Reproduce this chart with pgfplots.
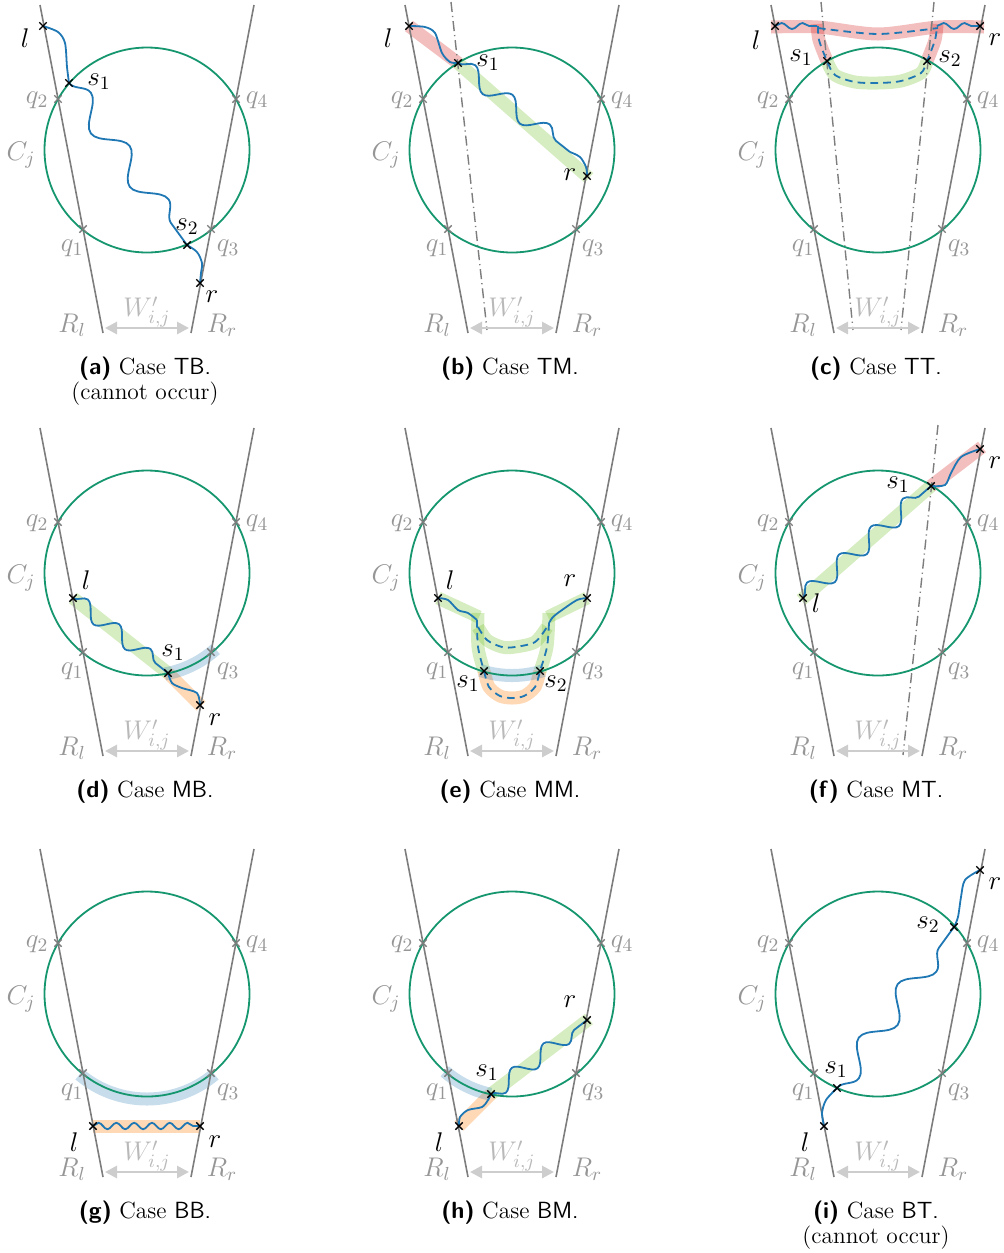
\RequirePackage{fix-cm}
\documentclass[border=0pt]{standalone}
\usepackage{pgfplots}
\pgfplotsset{compat=1.18}
\usetikzlibrary{decorations.pathmorphing,arrows.meta}
\definecolor{cgreen}{RGB}{22,150,110}
\definecolor{cgray}{RGB}{125,125,125}
\definecolor{lgray}{RGB}{150,150,150}
\definecolor{wgray}{RGB}{185,185,185}
\definecolor{agray}{RGB}{205,205,205}
\definecolor{wblue}{RGB}{31,119,180}
\definecolor{bred}{RGB}{214,39,40}
\definecolor{bgreen}{RGB}{120,195,50}
\definecolor{bblue}{RGB}{31,119,180}
\definecolor{borange}{RGB}{255,127,14}
\tikzset{
  lab/.style={text=lgray, font=\fontsize{13.5}{16}\selectfont, inner sep=0pt},
  blab/.style={text=black, font=\fontsize{13.5}{16}\selectfont, inner sep=0pt},
  captxt/.style={text=black, font=\fontsize{11.7}{14}\selectfont, inner sep=0pt},
}
\pgfplotsset{
  panel/.style={hide axis, clip=false, scale only axis, y dir=reverse,
    xmin=0, xmax=335, ymin=0, ymax=410, width=167.5pt, height=205pt,
    anchor=north west},
  band/.style={line width=6.5pt, opacity=0.3},
  wig/.style={wblue, line width=0.9pt, smooth},
  dwig/.style={wblue, line width=0.9pt, smooth, dash pattern=on 3.8pt off 2.6pt},
  snk/.style n args={2}{wblue, line width=0.9pt, decorate,
    decoration={snake, amplitude=#1, segment length=#2}},
  msnk/.style n args={2}{wblue, line width=0.9pt, decorate,
    decoration={snake, amplitude=#1, segment length=#2, mirror}},
  pts/.style={only marks, mark=x, mark size=2.6pt, black, mark options={line width=0.7pt}},
  dd/.style={cgray, line width=0.7pt, dash pattern=on 5pt off 2pt on 0.6pt off 2pt},
}
\newcommand{\base}{%
  \addplot[cgray, line width=0.8pt] coordinates {(40,5) (103,333)};
  \addplot[cgray, line width=0.8pt] coordinates {(254,5) (191,333)};
  \draw[cgreen, line width=0.9pt] (axis cs:147,150) circle[radius=51.25pt];
  \addplot[only marks, mark=x, mark size=2.6pt, cgray, mark options={line width=0.7pt}]
    coordinates {(58,99)(83,229)(236,99)(211,229)};
  \addplot[agray, line width=1.4pt, {Triangle[length=6pt,width=6pt]}-{Triangle[length=6pt,width=6pt]}]
    coordinates {(105,328)(189,328)};
  \node[lab] at (axis cs:37,100) {$q_2$};
  \node[lab] at (axis cs:257,100) {$q_4$};
  \node[lab] at (axis cs:72,248) {$q_1$};
  \node[lab] at (axis cs:228,248) {$q_3$};
  \node[lab] at (axis cs:21,155) {$C_j$};
  \node[lab] at (axis cs:72,325) {$R_l$};
  \node[lab] at (axis cs:222,325) {$R_r$};
  \node[lab, text=wgray] at (axis cs:147,312) {$W'_{i,j}$};
}
\begin{document}
\begin{tikzpicture}
% (a)
\begin{axis}[panel, at={(0pt,0pt)}]
\base
\addplot[wig] coordinates {(43,26)(58,32)(65,43)(67,67)(69,83)};
\addplot[snk={6pt}{33pt}] coordinates {(69,83)(187,245)};
\addplot[wig] coordinates {(187,245)(197,252)(202,263)(201,273)(200,283)};
\addplot[pts] coordinates {(43,26)(69,83)(187,245)(200,283)};
\node[blab] at (axis cs:25,38) {$l$};
\node[blab] at (axis cs:99,82) {$s_1$};
\node[blab] at (axis cs:187,227) {$s_2$};
\node[blab] at (axis cs:212,297) {$r$};
\node[captxt] at (axis cs:145,369) {\textsf{\textbf{(a)}} Case \textsf{TB.}};
\node[captxt] at (axis cs:145,394) {(cannot occur)};
\end{axis}
% (b)
\begin{axis}[panel, at={(182.5pt,0pt)}]
\addplot[band, bred] coordinates {(44,26)(93,63)};
\addplot[band, bgreen] coordinates {(93,63)(224,178)};
\addplot[dd] coordinates {(86,2)(122,330)};
\base
\addplot[wig] coordinates {(44,26)(60,27)(70,33)(77,53)(85,62)(93,63)};
\addplot[snk={4.5pt}{23.8pt}] coordinates {(93,63)(205,152)};
\addplot[wig] coordinates {(205,152)(215,157)(221,167)(222,176)};
\addplot[pts] coordinates {(44,26)(93,63)(222,176)};
\node[blab] at (axis cs:23,38) {$l$};
\node[blab] at (axis cs:123,63) {$s_1$};
\node[blab] at (axis cs:205,175) {$r$};
\node[captxt] at (axis cs:145,369) {\textsf{\textbf{(b)}} Case \textsf{TM.}};
\end{axis}
% (c)
\begin{axis}[panel, at={(365.5pt,0pt)}]
\addplot[band, bred, smooth] coordinates {(40,27)(87,27)(147,34)(207,27)(253,27)};
\addplot[band, bred, smooth] coordinates {(86,24)(88,40)(96,61)};
\addplot[band, bred, smooth] coordinates {(206,24)(204,40)(196,61)};
\addplot[band, bgreen, smooth] coordinates {(96,61)(104,75)(124,82)(147,83)(170,81)(190,73)(196,61)};
\addplot[dd] coordinates {(90,2)(122,330)};
\addplot[dd] coordinates {(203,2)(170,330)};
\base
\addplot[snk={1.5pt}{10.5pt}] coordinates {(44,26)(86,26)};
\addplot[snk={1.5pt}{10.5pt}] coordinates {(206,26)(249,26)};
\addplot[dwig] coordinates {(87,28)(147,34)(207,28)};
\addplot[dwig] coordinates {(87,26)(88,40)(96,61)(104,75)(124,82)(147,83)(170,81)(190,73)(196,61)(204,40)(206,26)};
\addplot[pts] coordinates {(44,26)(96,61)(196,61)(249,26)};
\node[blab] at (axis cs:25,40) {$l$};
\node[blab] at (axis cs:70,58) {$s_1$};
\node[blab] at (axis cs:219,59) {$s_2$};
\node[blab] at (axis cs:264,40) {$r$};
\node[captxt] at (axis cs:145,369) {\textsf{\textbf{(c)}} Case \textsf{TT.}};
\end{axis}
% (d)
\begin{axis}[panel, at={(0pt,-211.5pt)}]
\addplot[band, bgreen] coordinates {(73,175)(168,250)};
\addplot[band, borange] coordinates {(168,250)(201,283)};
\draw[bblue, line width=6.5pt, opacity=0.25] (axis cs:147,150) ++(280:51.25pt) arc[start angle=280, end angle=312, radius=51.25pt];
\base
\addplot[snk={4pt}{20pt}] coordinates {(73,175)(168,250)};
\addplot[wig] coordinates {(168,250)(172,260)(182,265)(197,270)(200,282)};
\addplot[pts] coordinates {(73,175)(168,250)(200,282)};
\node[blab] at (axis cs:86,157) {$l$};
\node[blab] at (axis cs:173,230) {$s_1$};
\node[blab] at (axis cs:215,297) {$r$};
\node[captxt] at (axis cs:145,369) {\textsf{\textbf{(d)}} Case \textsf{MB.}};
\end{axis}
% (e)
\begin{axis}[panel, at={(182.5pt,-211.5pt)}]
\addplot[band, bgreen] coordinates {(73,175)(114,194)};
\addplot[band, bgreen] coordinates {(222,175)(183,194)};
\addplot[band, bgreen, smooth] coordinates {(113,190)(113,224)(119,248)};
\addplot[band, bgreen, smooth] coordinates {(184,190)(182,224)(175,248)};
\addplot[band, bgreen, smooth] coordinates {(113,204)(122,217)(137,224)(150,224)(170,219)(182,204)};
\addplot[band, borange, smooth] coordinates {(119,248)(124,264)(135,273)(147,275)(159,273)(170,264)(175,248)};
\draw[bblue, line width=6.5pt, opacity=0.25] (axis cs:147,150) ++(252:51.25pt) arc[start angle=252, end angle=288, radius=51.25pt];
\base
\addplot[wig] coordinates {(73,175)(83,177)(93,187)(103,190)(112,197)};
\addplot[wig] coordinates {(222,175)(212,177)(197,187)(188,194)(184,200)};
\addplot[dwig] coordinates {(112,197)(113,224)(119,248)};
\addplot[dwig] coordinates {(184,200)(182,224)(175,248)};
\addplot[dwig] coordinates {(113,204)(122,217)(137,224)(150,224)(170,219)(182,204)};
\addplot[dwig] coordinates {(119,248)(124,264)(135,273)(147,275)(159,273)(170,264)(175,248)};
\addplot[pts] coordinates {(73,175)(222,175)(119,248)(175,248)};
\node[blab] at (axis cs:85,157) {$l$};
\node[blab] at (axis cs:205,158) {$r$};
\node[blab] at (axis cs:103,261) {$s_1$};
\node[blab] at (axis cs:191,261) {$s_2$};
\node[captxt] at (axis cs:145,369) {\textsf{\textbf{(e)}} Case \textsf{MM.}};
\end{axis}
% (f)
\begin{axis}[panel, at={(365.5pt,-211.5pt)}]
\addplot[band, bgreen] coordinates {(70,177)(200,63)};
\addplot[band, bred] coordinates {(200,63)(251,24)};
\addplot[dd] coordinates {(207,2)(172,332)};
\base
\addplot[snk={4.5pt}{21.25pt}] coordinates {(72,175)(200,63)};
\addplot[wig] coordinates {(200,63)(214,62)(220,50)(230,34)(249,26)};
\addplot[pts] coordinates {(72,175)(200,63)(249,26)};
\node[blab] at (axis cs:85,180) {$l$};
\node[blab] at (axis cs:167,62) {$s_1$};
\node[blab] at (axis cs:264,40) {$r$};
\node[captxt] at (axis cs:145,369) {\textsf{\textbf{(f)}} Case \textsf{MT.}};
\end{axis}
% (g)
\begin{axis}[panel, at={(0pt,-422pt)}]
\draw[bblue, line width=6.5pt, opacity=0.25] (axis cs:147,150) ++(230:52.5pt) arc[start angle=230, end angle=310, radius=52.5pt];
\addplot[band, borange] coordinates {(93,282)(200,282)};
\base
\addplot[snk={1.6pt}{8.9pt}] coordinates {(93,282)(200,282)};
\addplot[pts] coordinates {(93,282)(200,282)};
\node[blab] at (axis cs:74,298) {$l$};
\node[blab] at (axis cs:215,298) {$r$};
\node[captxt] at (axis cs:145,369) {\textsf{\textbf{(g)}} Case \textsf{BB.}};
\end{axis}
% (h)
\begin{axis}[panel, at={(182.5pt,-422pt)}]
\addplot[band, borange] coordinates {(94,282)(126,250)};
\addplot[band, bgreen] coordinates {(126,250)(224,175)};
\draw[bblue, line width=6.5pt, opacity=0.25] (axis cs:147,150) ++(229:51.25pt) arc[start angle=229, end angle=258, radius=51.25pt];
\base
\addplot[wig] coordinates {(94,282)(95,273)(103,266)(117,263)(123,256)(126,250)};
\addplot[msnk={4pt}{20pt}] coordinates {(126,250)(222,176)};
\addplot[pts] coordinates {(94,282)(126,250)(222,176)};
\node[blab] at (axis cs:74,298) {$l$};
\node[blab] at (axis cs:122,229) {$s_1$};
\node[blab] at (axis cs:205,158) {$r$};
\node[captxt] at (axis cs:145,369) {\textsf{\textbf{(h)}} Case \textsf{BM.}};
\end{axis}
% (i)
\begin{axis}[panel, at={(365.5pt,-422pt)}]
\base
\addplot[wig] coordinates {(93,282)(91,269)(95,256)(106,244)};
\addplot[msnk={6pt}{33pt}] coordinates {(106,244)(223,83)};
\addplot[wig] coordinates {(223,83)(227,73)(230,53)(234,36)(249,26)};
\addplot[pts] coordinates {(93,282)(106,244)(223,83)(249,26)};
\node[blab] at (axis cs:74,298) {$l$};
\node[blab] at (axis cs:105,226) {$s_1$};
\node[blab] at (axis cs:197,81) {$s_2$};
\node[blab] at (axis cs:264,40) {$r$};
\node[captxt] at (axis cs:145,369) {\textsf{\textbf{(i)}} Case \textsf{BT.}};
\node[captxt] at (axis cs:145,394) {(cannot occur)};
\end{axis}
\pgfresetboundingbox
\path[use as bounding box] (0,0) rectangle (501.5pt,-626.5pt);
\end{tikzpicture}
\end{document}
